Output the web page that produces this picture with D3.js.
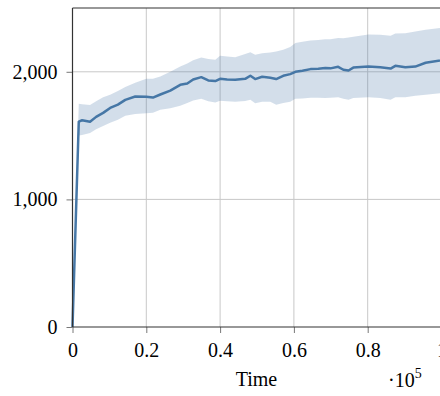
<!DOCTYPE html>
<html>
<head>
<meta charset="utf-8">
<script src="https://cdn.jsdelivr.net/npm/d3@7"></script>
<style>
  body { margin: 0; background: #fff; }
  text { font-family: "Liberation Serif", "Times New Roman", serif; fill: #000; }
</style>
</head>
<body>
<div id="div_chart"></div>
<script>
// time steps (raw units, axis shows them in 1e5)
var times = [0, 1700, 2600, 4750, 6400, 8300, 10200, 12300, 14300, 17000, 20000,
  21800, 23800, 26500, 29200, 31100, 32700, 34900, 36800, 38700, 40000,
  41900, 44100, 46800, 48200, 49500, 51400, 53600, 55200, 57100, 59000,
  60400, 62300, 64500, 66600, 68500, 69900, 72000, 73400, 74800, 76100,
  80200, 83400, 86200, 87500, 90200, 92900, 95700, 99700, 100000];

var mean_values = [0, 1610, 1620, 1608, 1647, 1678, 1717, 1743, 1780, 1806, 1804,
  1798, 1822, 1853, 1898, 1908, 1940, 1958, 1932, 1927, 1945,
  1940, 1937, 1945, 1969, 1943, 1961, 1953, 1943, 1969, 1982,
  2000, 2008, 2021, 2024, 2029, 2027, 2039, 2016, 2010, 2033,
  2041, 2035, 2025, 2047, 2035, 2041, 2071, 2089, 2092];

var lower_values = [0, 1500, 1505, 1520, 1550, 1575, 1600, 1625, 1655, 1670, 1676,
  1680, 1702, 1715, 1733, 1755, 1775, 1788, 1770, 1759, 1773,
  1770, 1765, 1772, 1780, 1754, 1765, 1766, 1741, 1755, 1765,
  1788, 1790, 1796, 1796, 1795, 1796, 1800, 1788, 1780, 1795,
  1801, 1795, 1780, 1800, 1800, 1812, 1820, 1833, 1835];

var upper_values = [0, 1750, 1745, 1739, 1770, 1800, 1820, 1850, 1880, 1915, 1945,
  1945, 1963, 2000, 2041, 2065, 2090, 2112, 2100, 2094, 2125,
  2120, 2115, 2140, 2154, 2133, 2145, 2151, 2160, 2173, 2194,
  2225, 2235, 2246, 2250, 2255, 2256, 2265, 2262, 2268, 2275,
  2293, 2290, 2282, 2300, 2303, 2316, 2330, 2343, 2345];

var x_ticks = [0, 20000, 40000, 60000, 80000, 100000];
var y_ticks = [0, 1000, 2000];

var line_color = "#4677a6";
var serif = "'Liberation Serif', 'Times New Roman', serif";

var margin = { top: 8, right: -1.5, bottom: 69, left: 72.5 };
var full_width = 440, full_height = 396;
var width = full_width - margin.left - margin.right,
  height = full_height - margin.top - margin.bottom;

var svg = d3.select("#div_chart").append("svg")
  .attr("width", full_width)
  .attr("height", full_height)
  .append("g")
  .attr("transform", "translate(" + margin.left + "," + margin.top + ")");

var x = d3.scaleLinear().domain([0, 100000]).range([0, width]);
var y = d3.scaleLinear().domain([0, 2500]).range([height, 0]);

var data = times.map(function(t, i) {
  return { t: t, mean: mean_values[i], lo: lower_values[i], hi: upper_values[i] };
});

// grid
svg.append("g")
  .selectAll("line.vgrid")
  .data(x_ticks.slice(1, -1))
  .enter().append("line")
  .attr("x1", function(d) { return x(d); })
  .attr("x2", function(d) { return x(d); })
  .attr("y1", 0)
  .attr("y2", height)
  .style("stroke", "#c8c8c8")
  .style("stroke-width", 1);

svg.append("g")
  .selectAll("line.hgrid")
  .data(y_ticks.slice(1))
  .enter().append("line")
  .attr("x1", 0)
  .attr("x2", width)
  .attr("y1", function(d) { return y(d); })
  .attr("y2", function(d) { return y(d); })
  .style("stroke", "#c8c8c8")
  .style("stroke-width", 1);

// band
var area = d3.area()
  .x(function(d) { return x(d.t); })
  .y0(function(d) { return y(d.lo); })
  .y1(function(d) { return y(d.hi); });

svg.append("path")
  .datum(data)
  .attr("d", area)
  .style("fill", line_color)
  .style("fill-opacity", 0.24)
  .style("stroke", "none");

// mean line
var line = d3.line()
  .x(function(d) { return x(d.t); })
  .y(function(d) { return y(d.mean); });

svg.append("path")
  .datum(data)
  .attr("d", line)
  .style("fill", "none")
  .style("stroke", line_color)
  .style("stroke-width", 2.5)
  .style("stroke-linejoin", "round");

// axes
var xAxis = d3.axisBottom(x)
  .tickValues(x_ticks)
  .tickSize(6)
  .tickPadding(10)
  .tickFormat(function(d) { return d3.format("")(d / 100000); });

var yAxis = d3.axisLeft(y)
  .tickValues(y_ticks)
  .tickSize(6)
  .tickPadding(9)
  .tickFormat(d3.format(","));

var gx = svg.append("g")
  .attr("transform", "translate(0," + height + ")")
  .call(xAxis);

var gy = svg.append("g").call(yAxis);

[gx, gy].forEach(function(g) {
  g.attr("font-family", serif).attr("font-size", 20);
  g.select(".domain").remove();
  g.selectAll(".tick line").style("stroke", "#555").style("stroke-width", 0.8);
  g.selectAll(".tick text")
    .style("font-family", serif)
    .style("font-size", "20px")
    .style("fill", "#000");
});

// frame
svg.append("line")
  .attr("x1", 0).attr("x2", 0).attr("y1", 0).attr("y2", height)
  .style("stroke", "#333").style("stroke-width", 1.2);
svg.append("line")
  .attr("x1", 0).attr("x2", width).attr("y1", height).attr("y2", height)
  .style("stroke", "#333").style("stroke-width", 1.2);
svg.append("line")
  .attr("x1", 0).attr("x2", width).attr("y1", 0).attr("y2", 0)
  .style("stroke", "#333").style("stroke-width", 1.2);
svg.append("line")
  .attr("x1", width).attr("x2", width).attr("y1", 0).attr("y2", height)
  .style("stroke", "#333").style("stroke-width", 1.2);

// labels
svg.append("text")
  .attr("x", x(50000) - 0.5)
  .attr("y", height + 59)
  .attr("text-anchor", "middle")
  .style("font-family", serif)
  .style("font-size", "20px")
  .text("Time");

var exp = svg.append("text")
  .attr("x", 315.5)
  .attr("y", height + 60)
  .style("font-family", serif)
  .style("font-size", "20px");
exp.append("tspan").text("\u00b710");
exp.append("tspan")
  .attr("dy", -9)
  .style("font-size", "14px")
  .text("5");
</script>
</body>
</html>
